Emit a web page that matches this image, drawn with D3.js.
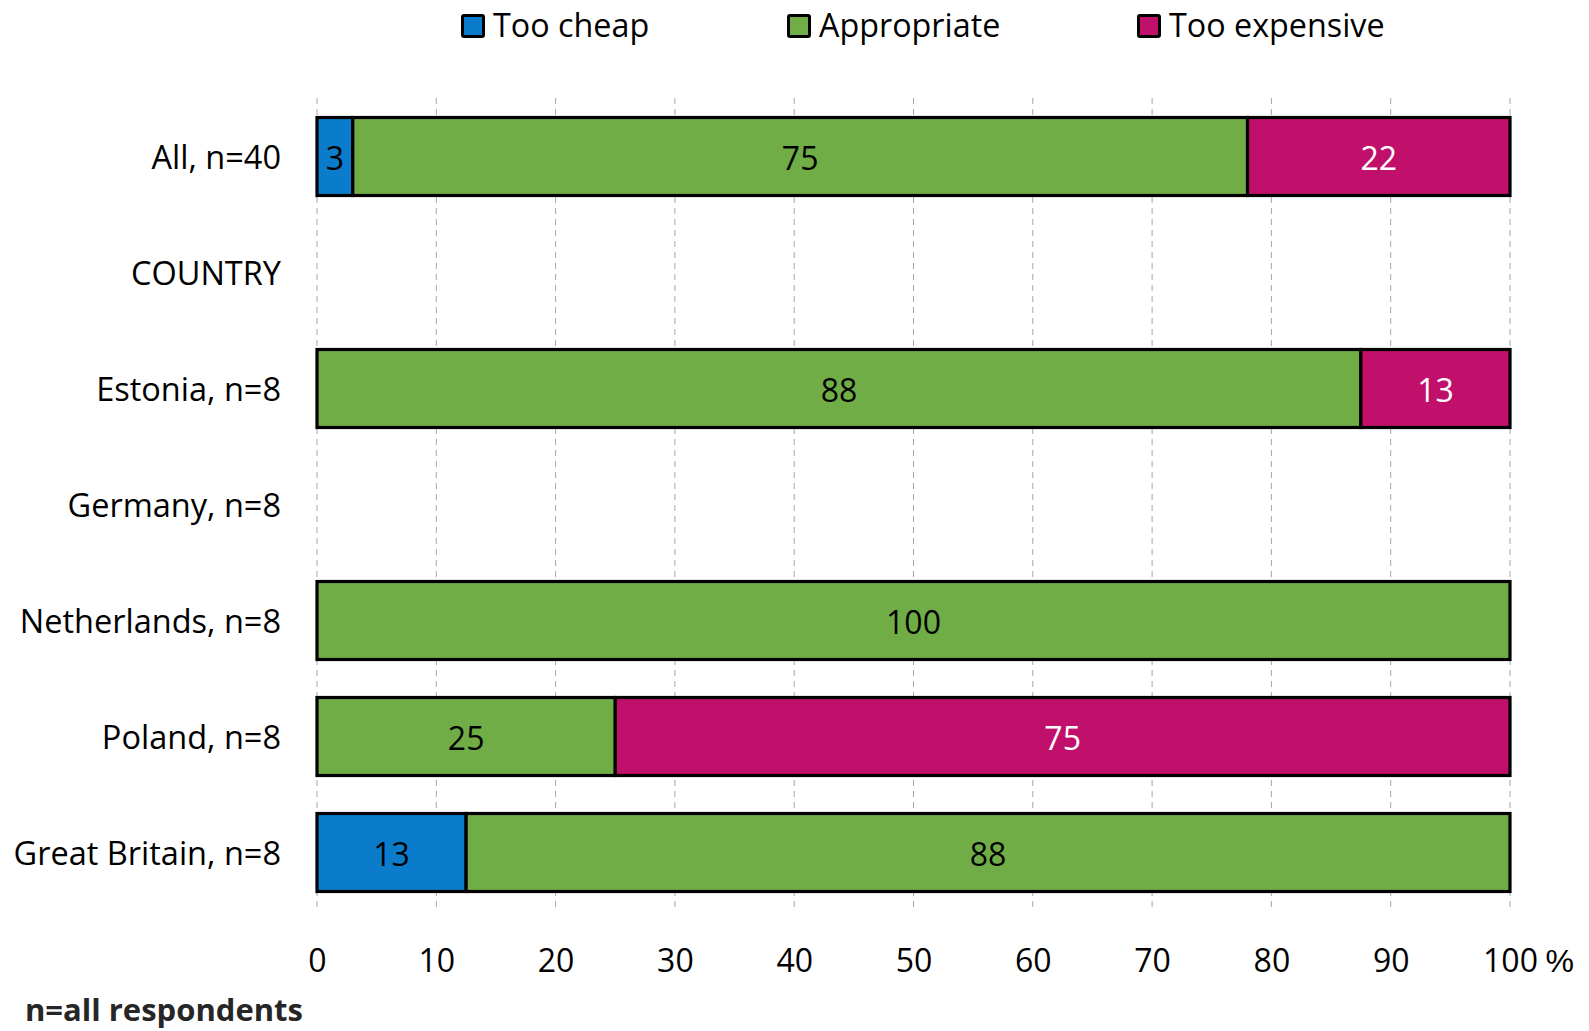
<!DOCTYPE html>
<html>
<head>
<meta charset="utf-8">
<script src="https://cdn.jsdelivr.net/npm/d3@7"></script>
<style>
  html, body { margin: 0; padding: 0; background: #fff; }
  svg { display: block; font-family: "Open Sans", "Noto Sans", sans-serif; }
</style>
</head>
<body>
<svg id="chart" width="1589" height="1031"></svg>
<script>
// ---- data ----
const categories = ["All, n=40", "COUNTRY", "Estonia, n=8", "Germany, n=8", "Netherlands, n=8", "Poland, n=8", "Great Britain, n=8"];
const seriesNames = ["Too cheap", "Appropriate", "Too expensive"];
const tooCheap     = [3,  null, 0,    null, 0,   0,  12.5];
const appropriate  = [75, null, 87.5, null, 100, 25, 87.5];
const tooExpensive = [22, null, 12.5, null, 0,   75, 0];
const xTicks = [0, 10, 20, 30, 40, 50, 60, 70, 80, 90, 100];
const colors = ["#0b7ccb", "#70ad47", "#c0106b"];
const labelColors = ["#000", "#000", "#fff"];
const noteText = "n=all respondents";

// ---- layout ----
const svg = d3.select("#chart");
const x = d3.scaleLinear().domain([0, 100]).range([317, 1510]);
const y = d3.scaleBand().domain(categories).range([98.5, 98.5 + 7 * 116])
  .paddingInner(38 / 116).paddingOuter(19 / 116);

// gridlines
svg.append("g").selectAll("line").data(xTicks).join("line")
  .attr("x1", d => x(d)).attr("x2", d => x(d))
  .attr("y1", 98).attr("y2", 909)
  .attr("stroke", "#a6a6a6").attr("stroke-width", 1)
  .attr("stroke-dasharray", "6,5");

// x axis
const xAxis = svg.append("g").attr("transform", "translate(0,949)")
  .call(d3.axisBottom(x).tickValues(xTicks).tickSize(0).tickPadding(0).tickFormat(d3.format("d")));
xAxis.select(".domain").remove();
xAxis.selectAll("text").attr("font-size", 32).attr("fill", "#000")
  .attr("font-family", "'Open Sans', sans-serif").attr("dy", "0.72em").attr("y", 0);
const lastTick = xAxis.selectAll(".tick").filter(d => d === 100).select("text");
const lastBox = lastTick.node().getBBox();
xAxis.append("text").attr("x", x(100) + lastBox.width / 2 + 8).attr("y", 0).attr("dy", "0.72em")
  .attr("font-size", 32).attr("fill", "#000").attr("text-anchor", "start").text("%");

// y axis labels
const yAxis = svg.append("g").attr("transform", "translate(281,1)")
  .call(d3.axisLeft(y).tickSize(0).tickPadding(0));
yAxis.select(".domain").remove();
yAxis.selectAll("text").attr("font-size", 32.5).attr("fill", "#000")
  .attr("font-family", "'Open Sans', sans-serif").attr("dy", "0.36em");

// stacked data
const rows = categories.map((c, i) => ({ cat: c, vals: [tooCheap[i], appropriate[i], tooExpensive[i]] }));
const segs = [];
rows.forEach(r => {
  if (r.vals.every(v => v === null)) return;
  let acc = 0;
  r.vals.forEach((v, k) => {
    if (v && v > 0) segs.push({ cat: r.cat, k, x0: acc, x1: acc + v, v });
    acc += v || 0;
  });
});

const bars = svg.append("g");
bars.selectAll("rect").data(segs).join("rect")
  .attr("x", d => x(d.x0)).attr("width", d => x(d.x1) - x(d.x0))
  .attr("y", d => y(d.cat)).attr("height", y.bandwidth())
  .attr("fill", d => colors[d.k]).attr("stroke", "#000").attr("stroke-width", 3.2);

bars.selectAll("text").data(segs).join("text")
  .attr("x", d => (x(d.x0) + x(d.x1)) / 2)
  .attr("y", d => y(d.cat) + y.bandwidth() / 2 + 2)
  .attr("dy", "0.36em").attr("text-anchor", "middle")
  .attr("font-size", 32).attr("fill", d => labelColors[d.k])
  .text(d => Math.round(d.v));

// legend
const legendX = [461, 787, 1137];
const lg = svg.append("g").selectAll("g").data(seriesNames).join("g")
  .attr("transform", (d, i) => `translate(${legendX[i]},14)`);
lg.append("rect").attr("x", 1.5).attr("y", 1.5).attr("width", 21).attr("height", 21)
  .attr("fill", (d, i) => colors[i]).attr("stroke", "#000").attr("stroke-width", 3).attr("rx", 1.5);
lg.append("text").attr("x", 32).attr("y", 23).attr("font-size", 32.3).attr("fill", "#000").text(d => d);

// note
svg.append("text").attr("x", 25).attr("y", 1021).attr("font-size", 31)
  .attr("font-weight", "bold").attr("fill", "#262626").text(noteText);
</script>
</body>
</html>
